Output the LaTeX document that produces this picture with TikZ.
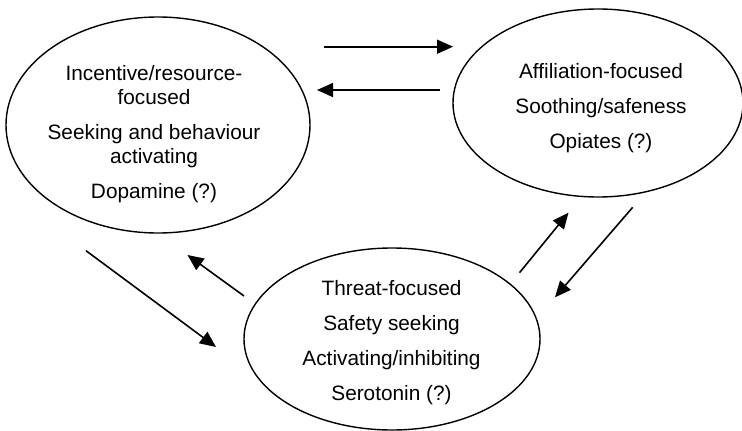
\documentclass[tikz,border=0pt]{standalone}
\usepackage{fontspec}
\setmainfont{Liberation Sans}
\usetikzlibrary{shapes.geometric,arrows.meta}
\begin{document}
\begin{tikzpicture}[x=1pt,y=-1pt,
  system/.style={draw,ellipse,line width=1.4pt,inner sep=0pt},
  label/.style={align=center,inner sep=0pt,font=\fontsize{20.8}{24}\selectfont},
  flow/.style={line width=1.6pt,-{Triangle[length=16pt,width=14pt]}}]
  \useasboundingbox (0,0) rectangle (742,431);

  % the three emotion-regulation systems
  \node[system,minimum width=304pt,minimum height=216pt] (drive) at (158,125) {};
  \node[system,minimum width=290pt,minimum height=188pt] (soothe) at (598,103) {};
  \node[system,minimum width=296pt,minimum height=182pt] (threat) at (392,339) {};

  \node[label] (drivetext) at (154,134.5)
    {Incentive/resource-\\focused\\[11pt]Seeking and behaviour\\activating\\[11pt]Dopamine (?)};
  \node[label] (soothetext) at (601,108.5)
    {Affiliation-focused\\[11pt]Soothing/safeness\\[11pt]Opiates (?)};
  \node[label] (threattext) at (391.5,342.5)
    {Threat-focused\\[11pt]Safety seeking\\[11pt]Activating/inhibiting\\[11pt]Serotonin (?)};

  % arrow end points between the systems
  \coordinate (ds1) at (324,46.7);   \coordinate (ds2) at (453,46.7);
  \coordinate (sd1) at (440,90);     \coordinate (sd2) at (317,90);
  \coordinate (dt1) at (86,250.7);   \coordinate (dt2) at (216,347);
  \coordinate (td1) at (244,296);    \coordinate (td2) at (187.5,255);
  \coordinate (ts1) at (519.5,272.7);\coordinate (ts2) at (568.5,212.7);
  \coordinate (st1) at (632.7,207.3);\coordinate (st2) at (555,297.3);

  \draw[flow] (ds1) -- (ds2);
  \draw[flow] (sd1) -- (sd2);
  \draw[flow] (dt1) -- (dt2);
  \draw[flow] (td1) -- (td2);
  \draw[flow] (ts1) -- (ts2);
  \draw[flow] (st1) -- (st2);
\end{tikzpicture}
\end{document}
